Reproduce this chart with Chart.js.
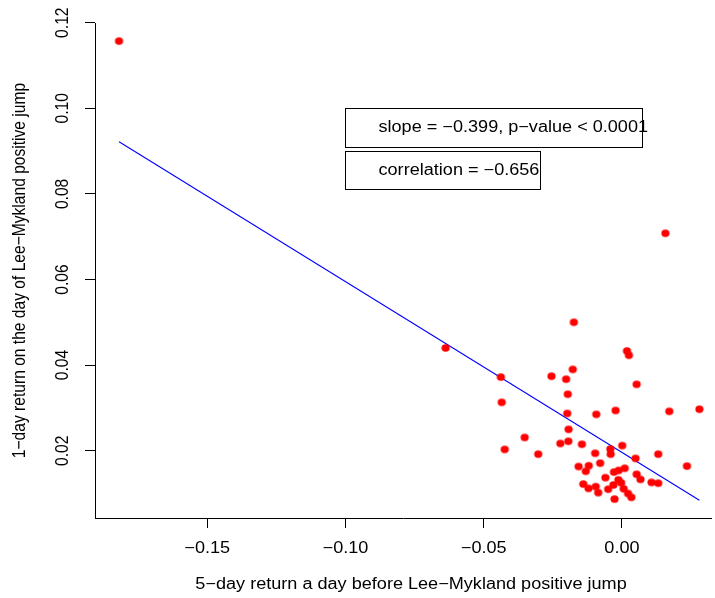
<!DOCTYPE html>
<html>
<head>
<meta charset="utf-8">
<script src="https://cdn.jsdelivr.net/npm/chart.js@4.4.1/dist/chart.umd.min.js"></script>
<style>
  html, body { margin: 0; padding: 0; background: #ffffff; }
  #wrap { width: 715px; height: 598px; position: relative; }
</style>
</head>
<body>
<div id="wrap"><canvas id="c" width="715" height="598"></canvas></div>
<script>
// 5-day return before each positive jump (x) and the 1-day return on the jump day (y)
const jumpX = [
  -0.1819, -0.0638, 0.0157,
  -0.0174, 0.0018, 0.0025, -0.0178, -0.0438, -0.0255, -0.0202, 0.0053,
  -0.0196, -0.0435, -0.0023, -0.0093, -0.0198, 0.0171, 0.0280, -0.0193,
  -0.0352, -0.0223, -0.0194, -0.0145, 0.0001, -0.0424, -0.0303, -0.0042,
  -0.0041, -0.0097, 0.0049, 0.0131, 0.0235, -0.0157, -0.0120, -0.0131,
  -0.0079, 0.0010, -0.0029, -0.0012, -0.0060, 0.0053, 0.0067, -0.0013,
  0.0107, 0.0131, -0.0140, -0.0121, -0.0095, -0.0086, -0.0050, -0.0031,
  -0.0003, 0.0006, 0.0022, 0.0034, -0.0027
];
const jumpY = [
  0.1157, 0.0440, 0.0708,
  0.0500, 0.0433, 0.0423, 0.0390, 0.0372, 0.0374, 0.0367, 0.0355,
  0.0332, 0.0313, 0.0294, 0.0285, 0.0287, 0.0292, 0.0297, 0.0250,
  0.0231, 0.0217, 0.0222, 0.0215, 0.0212, 0.0203, 0.0192, 0.0204,
  0.0192, 0.0194, 0.0182, 0.0192, 0.0164, 0.0163, 0.0165, 0.0152,
  0.0171, 0.0159, 0.0150, 0.0154, 0.0137, 0.0145, 0.0133, 0.0132,
  0.0126, 0.0124, 0.0122, 0.0112, 0.0116, 0.0102, 0.0110, 0.0120,
  0.0125, 0.0111, 0.0100, 0.0091, 0.0087
];

// least-squares fit reported in the annotation
const fitSlope = -0.399;
const fitIntercept = 0.0196;

const xTicks = [-0.15, -0.10, -0.05, 0.00];
const xTickLabels = ['\u22120.15', '\u22120.10', '\u22120.05', '0.00'];
const yTicks = [0.02, 0.04, 0.06, 0.08, 0.10, 0.12];
const yTickLabels = ['0.02', '0.04', '0.06', '0.08', '0.10', '0.12'];

const xTitle = '5\u2212day return a day before Lee\u2212Mykland positive jump';
const yTitle = '1\u2212day return on the day of Lee\u2212Mykland positive jump';
const statLabels = ['slope = \u22120.399, p\u2212value < 0.0001', 'correlation = \u22120.656'];
// data-space anchors (top-left corners) of the two annotation boxes
const statAnchorX = [-0.10, -0.10];
const statAnchorY = [0.10, 0.09];

const FONT = '15.6px "Liberation Sans", Arial, Helvetica, sans-serif';
const STRETCH = 1.16;

const points = jumpX.map((x, i) => ({ x: x, y: jumpY[i] }));
const xLo = Math.min(...jumpX), xHi = Math.max(...jumpX);
const fitLine = [
  { x: xLo, y: fitIntercept + fitSlope * xLo },
  { x: xHi, y: fitIntercept + fitSlope * xHi }
];

// slightly wide filled dot
function dotImage(rx, ry, color) {
  const w = Math.ceil(rx * 2) + 2, h = Math.ceil(ry * 2) + 2;
  const c = document.createElement('canvas');
  c.width = w; c.height = h;
  const g = c.getContext('2d');
  g.fillStyle = color;
  g.beginPath();
  g.ellipse(w / 2, h / 2, rx, ry, 0, 0, Math.PI * 2);
  g.fill();
  return c;
}
const redDot = dotImage(4.1, 3.7, '#ff0000');

function drawText(ctx, text, x, y, rot, align) {
  ctx.save();
  ctx.translate(x, y);
  ctx.scale(STRETCH, 1);
  ctx.rotate(rot);
  ctx.font = FONT;
  ctx.fillStyle = '#000000';
  ctx.textAlign = align;
  ctx.textBaseline = 'middle';
  ctx.fillText(text, 0, 0);
  ctx.restore();
}

const labelsPlugin = {
  id: 'axisText',
  afterDraw(chart) {
    const ctx = chart.ctx;
    const xs = chart.scales.x, ys = chart.scales.y;
    const area = chart.chartArea;

    xTicks.forEach((v, i) => {
      drawText(ctx, xTickLabels[i], xs.getPixelForValue(v), area.bottom + 30.5, 0, 'center');
    });
    yTicks.forEach((v, i) => {
      drawText(ctx, yTickLabels[i], area.left - 32, ys.getPixelForValue(v), -Math.PI / 2, 'center');
    });

    drawText(ctx, xTitle, 411, area.bottom + 67, 0, 'center');
    drawText(ctx, yTitle, 20, (area.top + area.bottom) / 2, -Math.PI / 2, 'center');

    // annotation boxes
    const boxW = [297, 195];
    const boxH = [39, 38];
    statLabels.forEach((t, i) => {
      const bx = Math.round(xs.getPixelForValue(statAnchorX[i])) + 0.5;
      const by = Math.round(ys.getPixelForValue(statAnchorY[i])) + 0.5;
      ctx.save();
      ctx.strokeStyle = '#000000';
      ctx.lineWidth = 1;
      ctx.strokeRect(bx, by, boxW[i], boxH[i]);
      ctx.restore();
      drawText(ctx, t, bx + 33, by + boxH[i] / 2, 0, 'left');
    });
  }
};

new Chart(document.getElementById('c'), {
  type: 'scatter',
  data: {
    datasets: [
      {
        type: 'line',
        data: fitLine,
        borderColor: '#0000ff',
        borderWidth: 1.1,
        pointRadius: 0,
        fill: false,
        tension: 0,
        order: 1
      },
      {
        type: 'scatter',
        data: points,
        pointStyle: redDot,
        pointRadius: 4,
        pointBackgroundColor: '#ff0000',
        pointBorderWidth: 0,
        order: 0
      }
    ]
  },
  options: {
    responsive: false,
    animation: false,
    devicePixelRatio: 1,
    layout: { padding: { top: 23, right: 0, bottom: 0, left: 0 } },
    plugins: { legend: { display: false }, tooltip: { enabled: false } },
    scales: {
      x: {
        type: 'linear',
        position: 'bottom',
        min: -0.1906,
        max: 0.0322,
        afterBuildTicks: s => { s.ticks = xTicks.map(v => ({ value: v })); },
        afterFit: s => { s.height = 80; },
        ticks: { display: false },
        grid: { drawOnChartArea: false, drawTicks: true, tickLength: 10, tickWidth: 1, tickColor: '#000000', color: '#000000' },
        border: { display: true, color: '#000000', width: 1 }
      },
      y: {
        type: 'linear',
        position: 'left',
        min: 0.00428,
        max: 0.11993,
        afterBuildTicks: s => { s.ticks = yTicks.map(v => ({ value: v })); },
        afterFit: s => { s.width = 95; },
        ticks: { display: false },
        grid: { drawOnChartArea: false, drawTicks: true, tickLength: 10, tickWidth: 1, tickColor: '#000000', color: '#000000' },
        border: { display: true, color: '#000000', width: 1 }
      }
    }
  },
  plugins: [labelsPlugin]
});
</script>
</body>
</html>
